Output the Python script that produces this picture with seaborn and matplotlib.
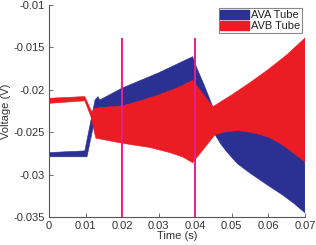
import numpy as np
import seaborn as sns
import matplotlib.pyplot as plt
from matplotlib.patches import Patch

# envelope of the fast oscillation (time in s, volts)
ava_t_hi = [0, 0.0098, 0.0126, 0.0134, 0.0139, 0.02, 0.03, 0.0393, 0.0405, 0.0425, 0.0448, 0.0460, 0.07]
ava_hi = [-0.0274, -0.0272, -0.0212, -0.0208, -0.0212, -0.0198, -0.0180, -0.0161, -0.0175, -0.0195, -0.0220, -0.0235, -0.0235]
ava_t_lo = [0, 0.0104, 0.0130, 0.02, 0.03, 0.04, 0.0454, 0.0470, 0.0486, 0.0515, 0.0549, 0.060, 0.0639, 0.067, 0.07]
ava_lo = [-0.0279, -0.0279, -0.0225, -0.0245, -0.0250, -0.0255, -0.0253, -0.0264, -0.0273, -0.0287, -0.0298, -0.0313, -0.0324, -0.0334, -0.0345]

avb_t_hi = [0, 0.0098, 0.0117, 0.0125, 0.0139, 0.02, 0.025, 0.03, 0.035, 0.0393, 0.0448, 0.05, 0.055, 0.06, 0.065, 0.07]
avb_hi = [-0.0210, -0.0208, -0.0226, -0.0222, -0.0221, -0.0219, -0.0213, -0.0206, -0.0198, -0.0189, -0.0220, -0.0206, -0.01915, -0.0176, -0.0159, -0.0139]
avb_t_lo = [0, 0.0098, 0.0115, 0.0128, 0.02, 0.0276, 0.033, 0.0365, 0.0393, 0.0454, 0.048, 0.0514, 0.0549, 0.058, 0.0604, 0.0635, 0.0658, 0.07]
avb_lo = [-0.0216, -0.0213, -0.0232, -0.0257, -0.0263, -0.0268, -0.0274, -0.0279, -0.0286, -0.0253, -0.0250, -0.0248, -0.0250, -0.0253, -0.02565, -0.0264, -0.0271, -0.0285]

# switching instants
marks = [0.02, 0.04]
mark_top = -0.0139

blue = '#2b3192'
red = '#ec1c24'
magenta = '#e4208f'
grey = '#555555'

sns.set_style('ticks')
plt.rcParams['font.family'] = ['Liberation Sans', 'DejaVu Sans']

fig = plt.figure(figsize=(3.16, 2.45), dpi=100)
ax = fig.add_axes([0.155, 0.114, 0.81, 0.866])

ax.fill(np.r_[ava_t_hi, ava_t_lo[::-1]], np.r_[ava_hi, ava_lo[::-1]],
        color=blue, lw=0.4, ec=blue)
ax.fill(np.r_[avb_t_hi, avb_t_lo[::-1]], np.r_[avb_hi, avb_lo[::-1]],
        color=red, lw=0.4, ec=red)

ax.vlines(marks, -0.035, mark_top, color=magenta, lw=1.4, zorder=5)

ax.set_xlim(0, 0.07)
ax.set_ylim(-0.035, -0.01)
ax.set_xticks(np.arange(0, 0.0701, 0.01))
ax.set_yticks([-0.035, -0.03, -0.025, -0.02, -0.015, -0.01])
ax.set_xticklabels(['0', '0.01', '0.02', '0.03', '0.04', '0.05', '0.06', '0.07'])
ax.set_yticklabels(['-0.035', '-0.03', '-0.025', '-0.02', '-0.015', '-0.01'])
ax.tick_params(direction='in', length=3, width=0.6, color=grey,
               labelsize=8, labelcolor='#333333', pad=3)

sns.despine(ax=ax)
for s in ['left', 'bottom']:
    ax.spines[s].set_color(grey)
    ax.spines[s].set_linewidth(0.8)

ax.set_xlabel('Time (s)', fontsize=8, color='#333333', labelpad=0)
ax.set_ylabel('Voltage (V)', fontsize=8, color='#333333', labelpad=2)

handles = [Patch(facecolor=blue, edgecolor=blue, label='AVA Tube'),
           Patch(facecolor=red, edgecolor=red, label='AVB Tube')]
leg = ax.legend(handles=handles, loc='upper right', bbox_to_anchor=(0.99, 0.985),
                fontsize=8, frameon=True, fancybox=False, framealpha=1,
                edgecolor='#888888', borderpad=0.15, labelspacing=0.05,
                handlelength=2.6, handleheight=0.9, handletextpad=0.2,
                borderaxespad=0)
leg.get_frame().set_linewidth(0.8)
for t in leg.get_texts():
    t.set_color('#222222')

fig.savefig('out.png', dpi=100)
